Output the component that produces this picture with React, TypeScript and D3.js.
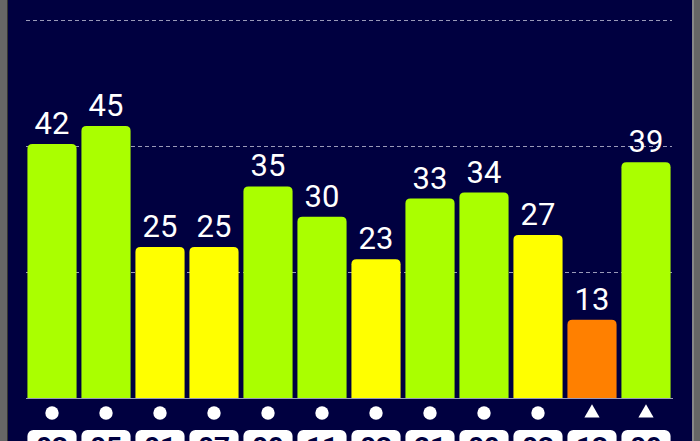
import React, { useRef, useEffect } from 'react';
import * as d3 from 'd3';

// chart data
const categories = ['03', '05', '01', '07', '09', '11', '03', '21', '09', '03', '13', '09'];
const values = [42, 45, 25, 25, 35, 30, 23, 33, 34, 27, 13, 39];
const levels = ['high', 'high', 'mid', 'mid', 'high', 'high', 'mid', 'high', 'high', 'mid', 'low', 'high'];
const markers = ['circle', 'circle', 'circle', 'circle', 'circle', 'circle', 'circle', 'circle', 'circle', 'circle', 'triangle', 'triangle'];
const gridTicks = [20.8, 41.6, 62.4];

const levelColour: Record<string, string> = { high: '#aaff00', mid: '#ffff00', low: '#ff8000' };

const W = 700;
const H = 441;

const App: React.FC = () => {
  const svgRef = useRef<SVGSVGElement | null>(null);

  useEffect(() => {
    if (!svgRef.current) return;
    const svg = d3.select(svgRef.current);
    svg.selectAll('*').remove();

    // frame
    svg.append('rect').attr('width', W).attr('height', H).attr('fill', '#666666');
    svg.append('rect').attr('x', 7).attr('width', 1).attr('height', H).attr('fill', '#333333');
    svg.append('rect').attr('x', 692).attr('width', 2).attr('height', H).attr('fill', '#888888');
    svg.append('rect').attr('x', 8).attr('width', 684).attr('height', H).attr('fill', '#000040');

    const x = d3.scaleBand<number>()
      .domain(d3.range(categories.length))
      .range([25, 673])
      .paddingInner(0.09)
      .paddingOuter(0.045);

    const y = d3.scaleLinear().domain([0, 62.4]).range([398.5, 20.5]);

    // dashed grid lines
    svg.selectAll('line.grid')
      .data(gridTicks)
      .enter().append('line')
      .attr('class', 'grid')
      .attr('x1', 26).attr('x2', 672)
      .attr('y1', d => y(d)).attr('y2', d => y(d))
      .attr('stroke', '#9a9ab8')
      .attr('stroke-width', 1)
      .attr('stroke-dasharray', '4,3');

    // bars with rounded tops
    const r = 5;
    svg.selectAll('path.bar')
      .data(values)
      .enter().append('path')
      .attr('class', 'bar')
      .attr('fill', (_, i) => levelColour[levels[i]])
      .attr('d', (v, i) => {
        const x0 = x(i)!;
        const x1 = x0 + x.bandwidth();
        const yt = y(v);
        const yb = y(0);
        return `M${x0},${yb}V${yt + r}Q${x0},${yt} ${x0 + r},${yt}H${x1 - r}Q${x1},${yt} ${x1},${yt + r}V${yb}Z`;
      });

    // baseline
    svg.append('line')
      .attr('x1', 26).attr('x2', 673)
      .attr('y1', y(0)).attr('y2', y(0))
      .attr('stroke', '#9a9ab8')
      .attr('stroke-width', 1.2);

    // value labels
    svg.selectAll('text.value')
      .data(values)
      .enter().append('text')
      .attr('class', 'value')
      .attr('x', (_, i) => x(i)! + x.bandwidth() / 2)
      .attr('y', v => y(v) - 10)
      .attr('text-anchor', 'middle')
      .attr('fill', '#ffffff')
      .style('font-family', 'Roboto, sans-serif')
      .style('font-size', '31px')
      .text(v => v);

    // markers under the axis
    const sym = d3.symbol();
    svg.selectAll('path.marker')
      .data(markers)
      .enter().append('path')
      .attr('class', 'marker')
      .attr('transform', (_, i) => `translate(${x(i)! + x.bandwidth() / 2},${413})`)
      .attr('d', m => (m === 'circle' ? sym.type(d3.symbolCircle).size(140)() : sym.type(d3.symbolTriangle).size(100)()))
      .attr('fill', '#ffffff');

    // category boxes (cut off at the bottom)
    const boxes = svg.selectAll('g.cat')
      .data(categories)
      .enter().append('g')
      .attr('class', 'cat')
      .attr('transform', (_, i) => `translate(${x(i)!},430)`);

    boxes.append('rect')
      .attr('width', x.bandwidth())
      .attr('height', 34)
      .attr('rx', 6)
      .attr('fill', '#ffffff');

    boxes.append('text')
      .attr('x', x.bandwidth() / 2)
      .attr('y', 27)
      .attr('text-anchor', 'middle')
      .attr('fill', '#000040')
      .style('font-family', 'Roboto, sans-serif')
      .style('font-size', '28px')
      .style('font-weight', 'bold')
      .text(d => d);
  }, []);

  return (
    <div style={{ position: 'fixed', left: 0, top: 0, width: W, height: H, overflow: 'hidden' }}>
      <svg ref={svgRef} width={W} height={H} style={{ display: 'block' }} />
    </div>
  );
};

export default App;
